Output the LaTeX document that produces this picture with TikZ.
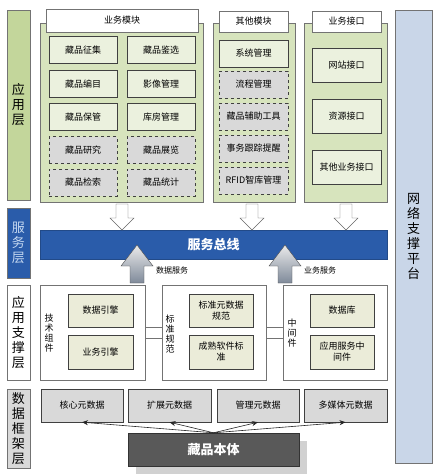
\documentclass[tikz,border=0pt]{standalone}
\usepackage{fontspec}
\setmainfont{Noto Sans CJK SC}
\usetikzlibrary{arrows.meta,shadows}

\definecolor{appgreen}{HTML}{C3D69B}
\definecolor{modgreen}{HTML}{D7E4BD}
\definecolor{boxgreen}{HTML}{EBF1DE}
\definecolor{boxgray}{HTML}{D9D9D9}
\definecolor{supbeige}{HTML}{EBECD9}
\definecolor{busblue}{HTML}{2A5CAA}
\definecolor{lightblue}{HTML}{C6D9F1}
\definecolor{netblue}{HTML}{C9D6E8}
\definecolor{coregray}{HTML}{595959}
\definecolor{arrowgray}{HTML}{7F8A9A}

\begin{document}
\begin{tikzpicture}[x=1pt,y=-1pt,
    every node/.style={inner sep=0pt,align=center,font=\fontsize{9}{11}\selectfont},
    layerbar/.style={draw=black!55,minimum width=23pt,font=\fontsize{13}{15}\selectfont},
    modframe/.style={draw=black!55,fill=modgreen,minimum height=179pt},
    modtitle/.style={draw=black!55,fill=white},
    solidbox/.style={draw=black!75,fill=boxgreen,line width=0.7pt,minimum width=68pt,minimum height=27pt},
    dashbox/.style={draw=black!75,fill=boxgray,dashed,line width=0.7pt,minimum width=68pt,minimum height=27pt},
    supframe/.style={draw=black!55,fill=white,minimum width=104pt,minimum height=95pt},
    engbox/.style={draw=black!75,fill=supbeige,line width=0.7pt,minimum width=65pt,minimum height=33pt},
    metabox/.style={draw=black!75,fill=boxgray,minimum width=82pt,minimum height=33pt},
    vlabel/.style={font=\fontsize{9}{10}\selectfont}
  ]
  \useasboundingbox (0,0) rectangle (435,476);

  % layer bars on the left and the right
  \node[layerbar,fill=appgreen,minimum height=190pt] (applayer) at (18.5,105) {应\\用\\层};
  \node[layerbar,fill=busblue,text=lightblue,minimum height=70pt] (srvlayer) at (18.5,243) {服\\务\\层};
  \node[layerbar,fill=white,minimum height=95pt] (suplayer) at (18.5,332.5) {应\\用\\支\\撑\\层};
  \node[layerbar,fill=boxgray,minimum height=79pt] (datlayer) at (18.5,428.5) {数\\据\\框\\架\\层};
  \node[layerbar,fill=netblue,minimum width=37pt,minimum height=453pt] (netlayer) at (413.5,236.5) {网\\络\\支\\撑\\平\\台};

  % module frames
  \node[modframe,minimum width=163pt] (bizmod) at (121.5,112.5) {};
  \node[modframe,minimum width=82pt] (othmod) at (254,112.5) {};
  \node[modframe,minimum width=83pt] (itfmod) at (345.5,112.5) {};
  \node[modtitle,minimum width=152pt,minimum height=23pt] (biztitle) at (122,20.5) {业务模块};
  \node[modtitle,minimum width=69pt,minimum height=21pt] (othtitle) at (253.5,21.5) {其他模块};
  \node[modtitle,minimum width=69pt,minimum height=21pt] (itftitle) at (346.5,21.5) {业务接口};

  % business modules
  \node[solidbox] (collect) at (83,50) {藏品征集};
  \node[solidbox] (appraise) at (161,50) {藏品鉴选};
  \node[solidbox] (catalog) at (83,84) {藏品编目};
  \node[solidbox] (image) at (161,84) {影像管理};
  \node[solidbox] (keep) at (83,117) {藏品保管};
  \node[solidbox] (store) at (161,117) {库房管理};
  \node[dashbox] (research) at (83,150) {藏品研究};
  \node[dashbox] (exhibit) at (161,150) {藏品展览};
  \node[dashbox] (search) at (83,182.5) {藏品检索};
  \node[dashbox] (stats) at (161,182.5) {藏品统计};

  % other modules
  \node[solidbox,minimum width=69pt] (sysmgr) at (253.5,53.5) {系统管理};
  \node[dashbox,minimum width=69pt] (flow) at (253.5,84.5) {流程管理};
  \node[dashbox,minimum width=69pt] (tools) at (253.5,116.5) {藏品辅助工具};
  \node[dashbox,minimum width=69pt] (track) at (253.5,148.5) {事务跟踪提醒};
  \node[dashbox,minimum width=69pt] (rfid) at (253.5,180.5) {RFID智库管理};

  % interfaces
  \node[solidbox,minimum width=69pt,minimum height=34pt] (web) at (346.5,65) {网站接口};
  \node[solidbox,minimum width=69pt,minimum height=34pt] (res) at (346.5,116.5) {资源接口};
  \node[solidbox,minimum width=69pt,minimum height=34pt] (othitf) at (346.5,167.5) {其他业务接口};

  % service bus
  \node[draw=busblue!80!black,fill=busblue,text=white,minimum width=347pt,minimum height=29pt,
    font=\fontsize{13}{15}\selectfont\bfseries] (bus) at (213.5,244.5) {服务总线};

  % arrows down into the bus
  \foreach \cx in {122,252,346}
    \draw[black!60,fill=white] (\cx-6,204) -- (\cx+6,204) -- (\cx+6,218) -- (\cx+12,218)
      -- (\cx,230) -- (\cx-12,218) -- (\cx-6,218) -- cycle;

  % arrows up from the support layer
  \foreach \cx in {137,285}
    \shade[draw=black!70,top color=black!8,bottom color=arrowgray]
      (\cx,245) -- (\cx+16,266) -- (\cx+7,266) -- (\cx+7,283) -- (\cx-7,283)
      -- (\cx-7,266) -- (\cx-16,266) -- cycle;
  \node[font=\fontsize{8}{10}\selectfont] (datasrv) at (172,270) {数据服务};
  \node[font=\fontsize{8}{10}\selectfont] (bizsrv) at (320,270) {业务服务};

  % support layer
  \node[supframe,minimum width=105pt] (tech) at (92.5,332.5) {};
  \node[supframe] (std) at (214,332.5) {};
  \node[supframe] (mid) at (335,332.5) {};
  \node[vlabel] (techlbl) at (49,333) {技\\术\\组\\件};
  \node[vlabel] (stdlbl) at (170,334) {标\\准\\规\\范};
  \node[vlabel] (midlbl) at (292,333) {中\\间\\件};
  \node[engbox] (dataeng) at (100.5,310.5) {数据引擎};
  \node[engbox,minimum height=34pt] (bizeng) at (100.5,352) {业务引擎};
  \node[engbox,minimum width=64pt] (metastd) at (221,310.5) {标准元数据\\规范};
  \node[engbox,minimum width=64pt,minimum height=34pt] (swstd) at (221,352) {成熟软件标\\准};
  \node[engbox,minimum width=64pt] (db) at (342,310.5) {数据库};
  \node[engbox,minimum width=64pt,minimum height=34pt] (appsrv) at (342,352) {应用服务中\\间件};
  \draw[black!55] ([yshift=5.5pt]tech.east) -- ([yshift=5.5pt]std.west);
  \draw[black!55] ([yshift=-5.5pt]tech.east) -- ([yshift=-5.5pt]std.west);
  \draw[black!55] ([yshift=5.5pt]std.east) -- ([yshift=5.5pt]mid.west);
  \draw[black!55] ([yshift=-5.5pt]std.east) -- ([yshift=-5.5pt]mid.west);

  % data framework
  \node[metabox] (coremeta) at (82,405.5) {核心元数据};
  \node[metabox,minimum width=83pt] (extmeta) at (169.5,405.5) {扩展元数据};
  \node[metabox] (mgmtmeta) at (258,405.5) {管理元数据};
  \node[metabox,minimum width=83pt] (mediameta) at (345.5,405.5) {多媒体元数据};
  \node[draw=black!80,fill=coregray,text=white,minimum width=171pt,minimum height=33pt,
    font=\fontsize{13}{15}\selectfont\bfseries,
    drop shadow={shadow xshift=8pt,shadow yshift=-8pt,fill=black!18,opacity=1}] (core) at (213.5,449.5) {藏品本体};
  \foreach \m in {coremeta,extmeta,mgmtmeta,mediameta}
    \draw[-{Stealth[length=6pt,width=5pt]},black!85,line width=0.6pt] (core.north) -- (\m.south);
\end{tikzpicture}
\end{document}
